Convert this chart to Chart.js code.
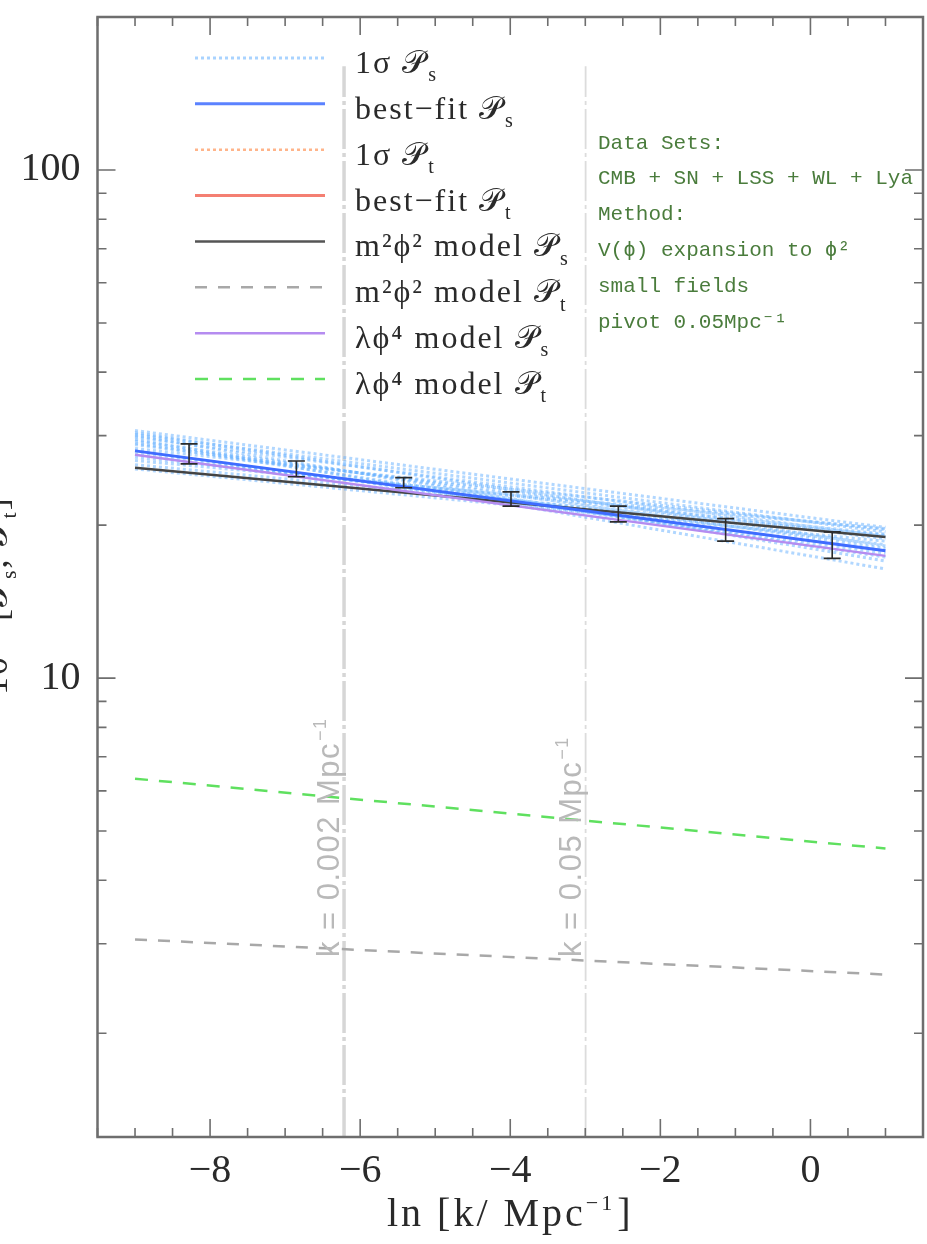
<!DOCTYPE html>
<html>
<head>
<meta charset="utf-8">
<script src="https://cdn.jsdelivr.net/npm/chart.js@4/dist/chart.umd.min.js"></script>
<style>
  html, body { margin: 0; padding: 0; background: #ffffff; }
  #wrap { width: 927px; height: 1244px; }
</style>
</head>
<body>
<div id="wrap"><canvas id="c" width="927" height="1244"></canvas></div>
<script>
// ln(k / Mpc^-1) at the two ends of every spectrum curve
const lnK = [-9, 1];

// 1σ scalar-spectrum samples (10^10 P_s): value at lnK[0] and at lnK[1]
const sigmaPsLeft  = [30.7, 30.4, 29.5, 29.0, 28.3, 27.6, 26.8, 25.8,
                      30.0, 28.0, 29.8, 28.8, 27.2, 26.3, 29.3, 30.2];
const sigmaPsRight = [19.8, 18.2, 16.4, 17.3, 19.6, 18.3, 19.7, 18.6,
                      17.0, 17.6, 19.0, 18.8, 19.2, 19.1, 18.0, 19.4];

// model and best-fit spectra (10^10 P), value at lnK[0] and at lnK[1]
const bestFitPs    = [28.0, 17.8];
const m2phi2Ps     = [25.95, 18.96];
const m2phi2Pt     = [3.06, 2.61];
const lambdaPhi4Ps = [27.5, 17.4];
const lambdaPhi4Pt = [6.34, 4.62];

// binned reconstruction of P_s with 1σ errors
const binLnK  = [-8.28, -6.85, -5.42, -3.99, -2.56, -1.13, 0.29];
const binHigh = [28.9, 26.75, 24.8, 23.25, 21.8, 20.6, 19.4];
const binLow  = [26.4, 24.9, 23.7, 21.8, 20.3, 18.6, 17.2];

// reference scales (k in Mpc^-1)
const markK      = [0.002, 0.05];
const markLabels = ['k = 0.002 Mpc', 'k = 0.05 Mpc'];

// axis ticks
const xTicks = [-8, -6, -4, -2, 0];
const yTicks = [10, 100];

// legend captions (main text, subscript)
const legendNames = ['1σ 𝒫', 'best−fit 𝒫', '1σ 𝒫', 'best−fit 𝒫',
                     'm²ϕ² model 𝒫', 'm²ϕ² model 𝒫', 'λϕ⁴ model 𝒫', 'λϕ⁴ model 𝒫'];
const legendSubs  = ['s', 's', 't', 't', 's', 't', 's', 't'];

// run description
const infoLines = ['Data Sets:', 'CMB + SN + LSS + WL + Lya', 'Method:',
                   'V(ϕ) expansion to ϕ²', 'small fields', 'pivot 0.05Mpc⁻¹'];

const X_MIN = -9.5, X_MAX = 1.5, Y_MIN = 1.25, Y_MAX = 200;

const pts = vals => lnK.map((x, i) => ({ x: x, y: vals[i] }));

const SERIF = '"Liberation Serif", "DejaVu Serif", serif';
const BAND = 'rgba(100,175,255,0.5)';

const datasets = [
  { label: legendNames[0], sub: legendSubs[0], data: pts([sigmaPsLeft[0], sigmaPsRight[0]]),
    borderColor: BAND, legendColor: '#a9d3ff', borderWidth: 3, borderDash: [3, 3], order: 5 },
  { label: legendNames[1], sub: legendSubs[1], data: pts(bestFitPs),
    borderColor: '#3f6cff', legendColor: '#5b82ff', borderWidth: 3, order: 1 },
  { label: legendNames[2], sub: legendSubs[2], data: [],
    borderColor: '#ffb48a', borderWidth: 2.5, borderDash: [3, 3], order: 6 },
  { label: legendNames[3], sub: legendSubs[3], data: [],
    borderColor: '#f47f72', borderWidth: 3, order: 6 },
  { label: legendNames[4], sub: legendSubs[4], data: pts(m2phi2Ps),
    borderColor: '#444444', legendColor: '#555555', borderWidth: 2.5, order: 3 },
  { label: legendNames[5], sub: legendSubs[5], data: pts(m2phi2Pt),
    borderColor: '#a8a8a8', borderWidth: 2.5, borderDash: [12, 11], order: 4 },
  { label: legendNames[6], sub: legendSubs[6], data: pts(lambdaPhi4Ps),
    borderColor: '#b58cf0', borderWidth: 2.5, order: 2 },
  { label: legendNames[7], sub: legendSubs[7], data: pts(lambdaPhi4Pt),
    borderColor: '#5fe05f', borderWidth: 2.5, borderDash: [13, 11], order: 4 }
];

// remaining 1σ samples, unlabeled
for (let i = 1; i < sigmaPsLeft.length; i++) {
  datasets.push({ data: pts([sigmaPsLeft[i], sigmaPsRight[i]]),
    borderColor: BAND, borderWidth: 3, borderDash: [3, 3], order: 5 });
}

// vertical reference-scale lines
markK.forEach((k, i) => {
  datasets.push({ data: [{ x: Math.log(k), y: Y_MIN }, { x: Math.log(k), y: 160 }],
    borderColor: i === 0 ? '#d6d6d6' : '#dcdcdc', borderWidth: i === 0 ? 3.5 : 1.8,
    borderDash: [40, 4, 4, 4], order: 9 });
});

function drawScriptText(ctx, text, sub, x, y, size, spacing) {
  ctx.font = size + 'px ' + SERIF;
  ctx.letterSpacing = spacing + 'px';
  ctx.textAlign = 'left';
  ctx.textBaseline = 'alphabetic';
  ctx.fillText(text, x, y);
  const w = ctx.measureText(text).width;
  ctx.font = Math.round(size * 0.62) + 'px ' + SERIF;
  ctx.fillText(sub, x + w + 1, y + size * 0.26);
  ctx.letterSpacing = '0px';
}

const decorations = {
  id: 'decorations',
  afterDatasetsDraw(chart) {
    const ctx = chart.ctx;
    const xs = chart.scales.x, ys = chart.scales.y;
    const area = chart.chartArea;

    // error bars of the binned reconstruction
    ctx.save();
    ctx.strokeStyle = '#2b2b2b';
    ctx.lineWidth = 1.6;
    binLnK.forEach((lk, i) => {
      const px = xs.getPixelForValue(lk);
      const top = ys.getPixelForValue(binHigh[i]);
      const bot = ys.getPixelForValue(binLow[i]);
      ctx.beginPath();
      ctx.moveTo(px, top); ctx.lineTo(px, bot);
      ctx.moveTo(px - 8.5, top); ctx.lineTo(px + 8.5, top);
      ctx.moveTo(px - 8.5, bot); ctx.lineTo(px + 8.5, bot);
      ctx.stroke();
    });
    ctx.restore();

    // labels along the reference-scale lines
    ctx.save();
    ctx.fillStyle = '#b9b9b9';
    markK.forEach((k, i) => {
      const px = xs.getPixelForValue(Math.log(k)) - 5;
      ctx.save();
      ctx.translate(px, area.bottom - 180);
      ctx.rotate(-Math.PI / 2);
      ctx.font = '31px "Liberation Sans", Arial, sans-serif';
      ctx.letterSpacing = '1.5px';
      ctx.textAlign = 'left';
      ctx.textBaseline = 'alphabetic';
      ctx.fillText(markLabels[i], 0, 0);
      const w = ctx.measureText(markLabels[i]).width;
      ctx.font = '18px "Liberation Sans", Arial, sans-serif';
      ctx.fillText('−1', w + 1, -13);
      ctx.restore();
    });
    ctx.restore();

    // run description
    ctx.save();
    ctx.fillStyle = '#4a7c3c';
    ctx.font = '21px "Liberation Mono", "DejaVu Sans Mono", monospace';
    ctx.textAlign = 'left';
    ctx.textBaseline = 'middle';
    infoLines.forEach((t, i) => ctx.fillText(t, 598, 143 + i * 35.8));
    ctx.restore();

    // legend
    ctx.save();
    chart.data.datasets.forEach((ds, i) => {
      if (!ds.label) return;
      const ry = 58 + i * 45.86;
      ctx.strokeStyle = ds.legendColor || ds.borderColor;
      ctx.lineWidth = Math.min(ds.borderWidth, 3);
      ctx.setLineDash(ds.borderDash || []);
      ctx.beginPath();
      ctx.moveTo(195, ry); ctx.lineTo(325, ry);
      ctx.stroke();
      ctx.setLineDash([]);
      ctx.fillStyle = '#2a2a2a';
      drawScriptText(ctx, ds.label, ds.sub, 355, ry + 15, 32, 2);
    });
    ctx.restore();
  },
  afterDraw(chart) {
    const ctx = chart.ctx;
    const xs = chart.scales.x, ys = chart.scales.y;
    const a = chart.chartArea;

    ctx.save();
    ctx.strokeStyle = '#6e6e6e';
    ctx.lineWidth = 2.5;
    ctx.strokeRect(a.left, a.top, a.right - a.left, a.bottom - a.top);

    ctx.lineWidth = 1.6;
    ctx.beginPath();
    // ticks on bottom and top edges, every 0.5 in ln k
    for (let v = X_MIN; v <= X_MAX + 1e-9; v += 0.5) {
      const px = xs.getPixelForValue(v);
      const len = xTicks.includes(v) ? 18 : 9;
      ctx.moveTo(px, a.bottom); ctx.lineTo(px, a.bottom - len);
      ctx.moveTo(px, a.top); ctx.lineTo(px, a.top + len);
    }
    // logarithmic ticks on left and right edges
    for (let e = 0; e <= 2; e++) {
      for (let d = 1; d <= 9; d++) {
        const v = d * Math.pow(10, e);
        if (v <= Y_MIN || v >= Y_MAX) continue;
        const py = ys.getPixelForValue(v);
        const len = d === 1 ? 18 : 9;
        ctx.moveTo(a.left, py); ctx.lineTo(a.left + len, py);
        ctx.moveTo(a.right, py); ctx.lineTo(a.right - len, py);
      }
    }
    ctx.stroke();
    ctx.restore();

    // x-axis title
    ctx.save();
    ctx.fillStyle = '#2a2a2a';
    ctx.textBaseline = 'alphabetic';
    ctx.textAlign = 'left';
    ctx.font = '40px ' + SERIF;
    ctx.letterSpacing = '3px';
    const p1 = 'ln [k/ Mpc', p3 = ']';
    const w1 = ctx.measureText(p1).width;
    ctx.font = '22px ' + SERIF;
    const w2 = ctx.measureText('−1').width;
    ctx.font = '40px ' + SERIF;
    const w3 = ctx.measureText(p3).width;
    const tx = (a.left + a.right) / 2 - (w1 + w2 + w3 + 2) / 2;
    const ty = 1226;
    ctx.fillText(p1, tx, ty);
    ctx.font = '22px ' + SERIF;
    ctx.fillText('−1', tx + w1, ty - 16);
    ctx.font = '40px ' + SERIF;
    ctx.fillText(p3, tx + w1 + w2 + 2, ty);
    ctx.restore();

    // y-axis title, running off the left edge
    ctx.save();
    ctx.fillStyle = '#2a2a2a';
    ctx.translate(7, 695);
    ctx.rotate(-Math.PI / 2);
    ctx.font = '36px ' + SERIF;
    ctx.letterSpacing = '2px';
    ctx.textBaseline = 'alphabetic';
    ctx.textAlign = 'left';
    let cx = 0;
    ctx.fillText('10', cx, 0); cx += ctx.measureText('10').width;
    ctx.font = '22px ' + SERIF;
    ctx.fillText('10', cx, -18); cx += ctx.measureText('10').width + 8;
    [['[𝒫', 's'], [', 𝒫', 't']].forEach(([m, s]) => {
      ctx.font = '36px ' + SERIF;
      ctx.fillText(m, cx, 0); cx += ctx.measureText(m).width;
      ctx.font = '22px ' + SERIF;
      ctx.fillText(s, cx, 9); cx += ctx.measureText(s).width;
    });
    ctx.font = '36px ' + SERIF;
    ctx.fillText(']', cx, 0);
    ctx.restore();
  }
};

new Chart(document.getElementById('c'), {
  type: 'line',
  data: { datasets: datasets },
  options: {
    responsive: false,
    animation: false,
    devicePixelRatio: 1,
    layout: { padding: { left: 0, right: 4, top: 17, bottom: 0 } },
    plugins: { legend: { display: false }, tooltip: { enabled: false } },
    elements: { point: { radius: 0 }, line: { tension: 0, fill: false } },
    scales: {
      x: {
        type: 'linear', min: X_MIN, max: X_MAX,
        afterFit(s) { s.height = 107; s.paddingLeft = 0; s.paddingRight = 0; },
        afterBuildTicks(s) { s.ticks = xTicks.map(v => ({ value: v })); },
        grid: { display: false, drawTicks: false },
        border: { display: false },
        ticks: {
          padding: 10, color: '#2a2a2a', maxRotation: 0, autoSkip: false,
          font: { family: SERIF, size: 40 },
          callback: v => (v < 0 ? '−' + (-v) : String(v))
        }
      },
      y: {
        type: 'logarithmic', min: Y_MIN, max: Y_MAX,
        afterFit(s) { s.width = 97.5; s.paddingTop = 0; s.paddingBottom = 0; },
        afterBuildTicks(s) { s.ticks = yTicks.map(v => ({ value: v })); },
        grid: { display: false, drawTicks: false },
        border: { display: false },
        ticks: {
          padding: 17, color: '#2a2a2a', autoSkip: false,
          font: { family: SERIF, size: 40 },
          callback: v => String(v)
        }
      }
    }
  },
  plugins: [decorations]
});
</script>
</body>
</html>
